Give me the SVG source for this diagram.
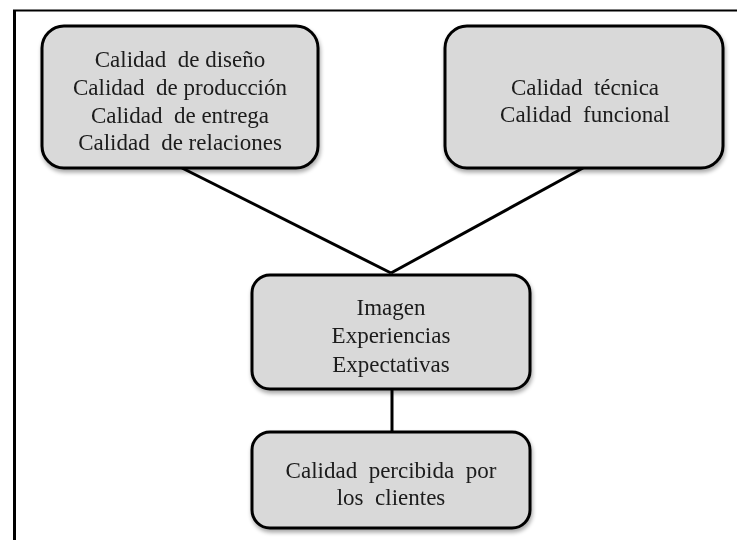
<svg xmlns="http://www.w3.org/2000/svg" width="737" height="540" viewBox="0 0 737 540">
<defs>
<filter id="sh" x="-10%" y="-10%" width="120%" height="130%">
<feGaussianBlur in="SourceAlpha" stdDeviation="2"/>
<feOffset dx="1" dy="3" result="b"/>
<feComponentTransfer><feFuncA type="linear" slope="0.35"/></feComponentTransfer>
<feMerge><feMergeNode/><feMergeNode in="SourceGraphic"/></feMerge>
</filter>
</defs>
<style>
.box{fill:#d9d9d9;stroke:#000;stroke-width:3}
.t{font-family:"Liberation Serif","Times New Roman",serif;font-size:23px;fill:#1a1a1a;text-anchor:middle}
.c{stroke:#000;stroke-width:3;fill:none}
.frame{stroke:#000;fill:none}
</style>
<rect width="737" height="540" fill="#fff"/>
<g id="frame">
<line class="frame" x1="14.5" y1="10" x2="14.5" y2="540" stroke-width="3"/>
<line class="frame" x1="13" y1="10.5" x2="737" y2="10.5" stroke-width="2"/>
</g>
<g id="connectors">
<line class="c" x1="182" y1="168" x2="391" y2="273"/>
<line class="c" x1="583" y1="168" x2="391" y2="273"/>
<line class="c" x1="392" y1="389" x2="392" y2="432"/>
</g>
<g id="n1" filter="url(#sh)">
<rect class="box" x="42" y="26" width="276" height="142" rx="22"/>
<text class="t" x="180" y="67" xml:space="preserve">Calidad  de diseño</text>
<text class="t" x="180" y="95" xml:space="preserve">Calidad  de producción</text>
<text class="t" x="180" y="123" xml:space="preserve">Calidad  de entrega</text>
<text class="t" x="180" y="150" xml:space="preserve">Calidad  de relaciones</text>
</g>
<g id="n2" filter="url(#sh)">
<rect class="box" x="445" y="26" width="278" height="142" rx="22"/>
<text class="t" x="585" y="95" xml:space="preserve">Calidad  técnica</text>
<text class="t" x="585" y="122" xml:space="preserve">Calidad  funcional</text>
</g>
<g id="n3" filter="url(#sh)">
<rect class="box" x="252" y="275" width="278" height="114" rx="18"/>
<text class="t" x="391" y="315">Imagen</text>
<text class="t" x="391" y="343">Experiencias</text>
<text class="t" x="391" y="372">Expectativas</text>
</g>
<g id="n4" filter="url(#sh)">
<rect class="box" x="252" y="432" width="278" height="96" rx="18"/>
<text class="t" x="391" y="478" xml:space="preserve">Calidad  percibida  por</text>
<text class="t" x="391" y="505" xml:space="preserve">los  clientes</text>
</g>
</svg>
